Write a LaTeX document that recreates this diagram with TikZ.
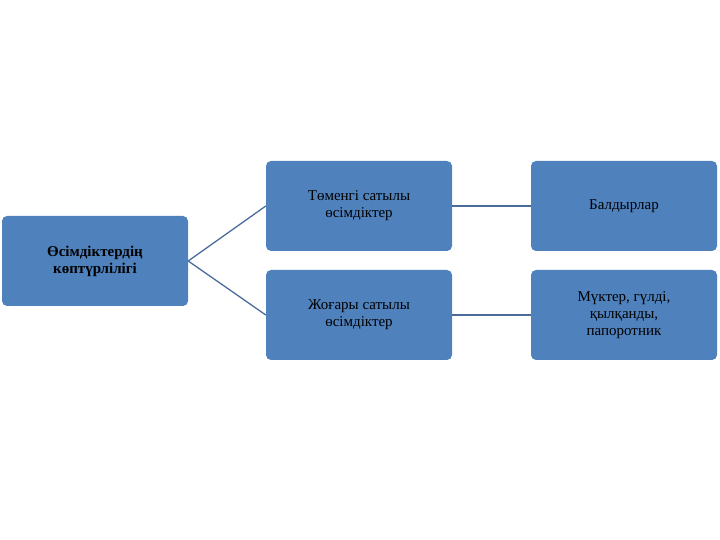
\documentclass[tikz,border=0pt]{standalone}
\usepackage{fontspec}
\setmainfont{Liberation Serif}
\usetikzlibrary{positioning}
\definecolor{boxblue}{HTML}{4F81BD}
\definecolor{lineblue}{HTML}{4A6C9B}
\tikzset{box/.style={draw=none, fill=boxblue, rounded corners=5pt, minimum width=186pt, minimum height=90pt, align=center, text=black, font=\fontsize{15}{17}\selectfont, inner sep=2pt}}
\tikzset{conn/.style={draw=lineblue, line width=1.3pt}}
\begin{document}
\begin{tikzpicture}[x=1pt,y=1pt]
  \useasboundingbox (0,0) rectangle (720,540);
  \node[box, font=\bfseries\fontsize{15}{17}\selectfont] (root) at (95,279) {Өсімдіктердің\\көптүрлілігі};
  \node[box] (low) at (359,334) {Төменгі сатылы\\өсімдіктер};
  \node[box] (high) at (359,225) {Жоғары сатылы\\өсімдіктер};
  \node[box] (algae) at (624,334) {Балдырлар};
  \node[box] (moss) at (624,225) {Мүктер, гүлді,\\қылқанды,\\папоротник};
  \draw[conn] (root.east) -- (low.west);
  \draw[conn] (root.east) -- (high.west);
  \draw[conn] (low) -- (algae);
  \draw[conn] (high) -- (moss);
\end{tikzpicture}
\end{document}
